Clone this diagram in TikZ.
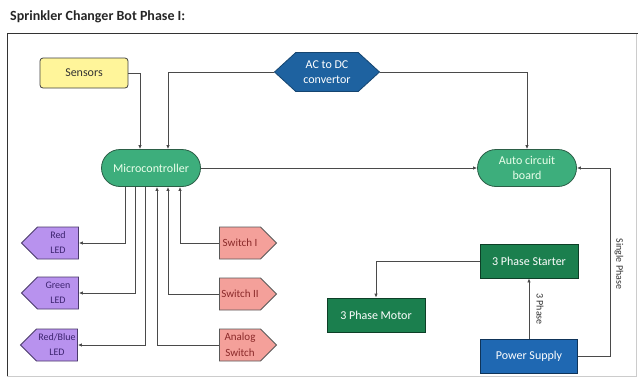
\documentclass[tikz,border=0pt]{standalone}
\usepackage{fontspec}
\setmainfont{Carlito}
\usetikzlibrary{shapes.misc,shapes.symbols,arrows.meta}
\definecolor{sensfill}{HTML}{FFF59A}
\definecolor{microfill}{HTML}{3DAE7C}
\definecolor{microline}{HTML}{2B5E46}
\definecolor{acfill}{HTML}{1E62A0}
\definecolor{ledfill}{HTML}{B892EE}
\definecolor{ledline}{HTML}{4A3A6A}
\definecolor{ledtext}{HTML}{3D2470}
\definecolor{swfill}{HTML}{F4A09A}
\definecolor{swtext}{HTML}{8B2A2A}
\definecolor{starterfill}{HTML}{1B7F4E}
\definecolor{powerfill}{HTML}{1F68B2}
\definecolor{connline}{HTML}{4A4A4A}
\tikzset{
  base/.style={draw=black!75, line width=0.8pt, align=center, inner sep=1pt},
  sensbox/.style={base, fill=sensfill, rounded corners=3pt, minimum width=88pt, minimum height=30pt, font=\fontsize{12}{14}\selectfont, text=black!80},
  pill/.style={base, rounded rectangle, fill=microfill, draw=microline, minimum width=101pt, minimum height=37pt, text=white!92!green, font=\fontsize{12}{15}\selectfont},
  hexbox/.style={base, signal, signal to=east and west, signal pointer angle=85, fill=acfill, draw=acfill!70!black, minimum width=105pt, minimum height=39pt, text=white, font=\fontsize{12}{15}\selectfont},
  ledbox/.style={base, signal, signal to=west, signal pointer angle=90, fill=ledfill, draw=ledline, minimum width=57pt, minimum height=32pt, text=ledtext, font=\fontsize{10}{15}\selectfont},
  swbox/.style={base, signal, signal to=east, signal pointer angle=90, fill=swfill, draw=black!65, minimum width=57pt, minimum height=32pt, text=swtext, font=\fontsize{11}{16}\selectfont},
  greenbox/.style={base, fill=starterfill, draw=starterfill!50!black, minimum width=98pt, minimum height=34pt, text=white, font=\fontsize{12}{15}\selectfont},
  bluebox/.style={base, fill=powerfill, draw=powerfill!50!black, minimum width=97pt, minimum height=34pt, text=white, font=\fontsize{12}{15}\selectfont},
  conn/.style={draw=connline, line width=0.9pt, -{Latex[length=4pt,width=3.5pt]}},
  lbl/.style={font=\fontsize{10}{11}\selectfont, text=black!80, inner sep=0pt},
}
\begin{document}
\begin{tikzpicture}[x=1pt,y=-1pt]
\useasboundingbox[fill=white] (0,0) rectangle (638,378);
% frame
\draw[black!20, line width=0.8pt] (636,33) -- (636,376) -- (7,376);
\draw[black!80, line width=1pt] (7,376) -- (7,33) -- (638,33);
% title
\node[anchor=west, inner sep=0pt, font=\fontsize{14}{16}\selectfont\bfseries, text=black!85] (title) at (10,17) {Sprinkler Changer Bot Phase I:};
% nodes
\node[sensbox] (sensors) at (84,73) {Sensors};
\node[hexbox] (acdc) at (327,72) {AC to DC\\convertor};
\node[pill] (micro) at (151,168) {Microcontroller};
\node[pill] (auto) at (527,168) {Auto circuit\\board};
\node[ledbox] (redled) at (58,243) {Red\\LED};
\node[ledbox] (greenled) at (58,293) {Green\\LED};
\node[ledbox] (rbled) at (57,345) {Red/Blue\\LED};
\node[swbox] (sw1) at (240,243) {Switch I};
\node[swbox] (sw2) at (240,294) {Switch II};
\node[swbox] (asw) at (240,345) {Analog\\Switch};
\node[greenbox] (starter) at (529,261) {3 Phase Starter};
\node[greenbox] (motor) at (376,315) {3 Phase Motor};
\node[bluebox] (power) at (529,356) {Power Supply};
% connectors
\draw[conn] (sensors.east) -| ([xshift=-11pt]micro.north);
\draw[conn] (acdc.west) -| ([xshift=17pt]micro.north);
\draw[conn] (acdc.east) -| (auto.north);
\draw[conn] (micro.east) -- (auto.west);
\draw[conn] ([xshift=-26pt]micro.south) |- (redled.east);
\draw[conn] ([xshift=-16pt]micro.south) |- (greenled.east);
\draw[conn] ([xshift=-6pt]micro.south) |- (rbled.east);
\draw[conn] (sw1.west) -| ([xshift=29pt]micro.south);
\draw[conn] (sw2.west) -| ([xshift=17pt]micro.south);
\draw[conn] (asw.west) -| ([xshift=6pt]micro.south);
\draw[conn] (starter.west) -| (motor.north);
\draw[conn] (power.north) -- (starter.south);
\coordinate (pcorner) at (610,356);
\draw[conn] (power.east) -- (pcorner) |- (auto.east);
% labels
\node[lbl, rotate=-90] (single) at (619,264) {Single Phase};
\node[lbl, rotate=-90] (threeph) at (540,309) {3 Phase};
\end{tikzpicture}
\end{document}
